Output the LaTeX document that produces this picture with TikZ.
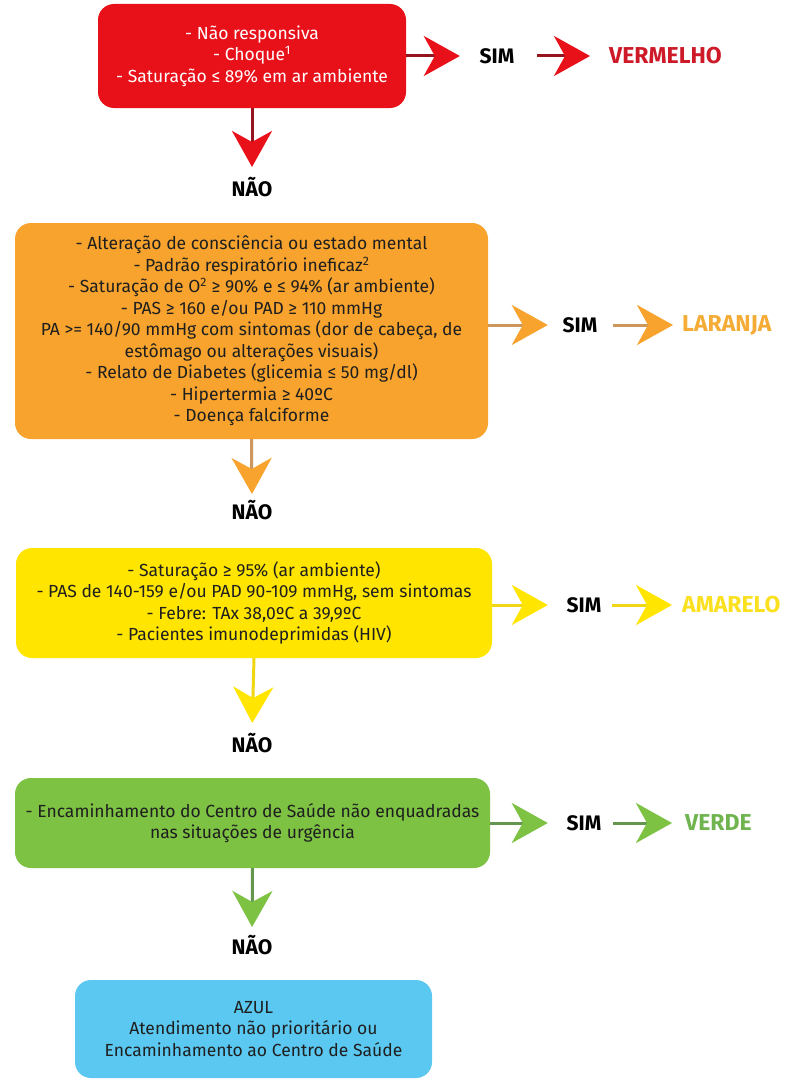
\documentclass[tikz,border=0pt]{standalone}
\usepackage{fontspec}
\setmainfont{Fira Sans}
\usetikzlibrary{arrows.meta}
\definecolor{cred}{RGB}{232,17,26}
\definecolor{cora}{RGB}{247,163,45}
\definecolor{cyel}{RGB}{255,229,0}
\definecolor{cgre}{RGB}{125,194,66}
\definecolor{cblu}{RGB}{90,200,240}
\definecolor{lred}{RGB}{205,25,40}
\definecolor{lora}{RGB}{245,172,55}
\definecolor{lyel}{RGB}{250,224,30}
\definecolor{lgre}{RGB}{112,180,80}
\definecolor{sred}{RGB}{150,20,30}
\definecolor{sora}{RGB}{205,150,90}
\definecolor{syel}{RGB}{240,215,20}
\definecolor{sgre}{RGB}{100,150,80}
\tikzset{
  box/.style={rounded corners=16pt, align=center, inner sep=0pt,
    font=\fontsize{17.5}{21.5}\selectfont, text=black!88},
  word/.style={inner sep=0pt, font=\fontsize{21}{23}\selectfont\bfseries},
  cword/.style={inner sep=0pt, anchor=west, font=\fontsize{23}{25}\selectfont\bfseries},
  simw/.style={word, minimum width=40pt},
  arr/.style 2 args={draw=#2, line width=3pt,
    -{Stealth[length=36pt,width=40pt,inset=11pt,color=#1]}},
}
\begin{document}
\begin{tikzpicture}[x=1pt,y=-1pt]
\useasboundingbox[fill=white] (0,0) rectangle (792,1081);
% boxes
\node[box, fill=cred, text=white, minimum width=308pt, minimum height=104pt] (red) at (252,56)
  {- Não responsiva\\- Choque\textsuperscript{1}\\- Saturação ≤ 89\% em ar ambiente};
\node[box, fill=cora, minimum width=473pt, minimum height=216pt] (ora) at (251.5,331)
  {- Alteração de consciência ou estado mental\\
   - Padrão respiratório ineficaz\textsuperscript{2}\\
   - Saturação de O\textsuperscript{2} ≥ 90\% e ≤ 94\% (ar ambiente)\\
   - PAS ≥ 160 e/ou PAD ≥ 110 mmHg\\
   PA >= 140/90 mmHg com sintomas (dor de cabeça, de\\
   estômago ou alterações visuais)\\
   - Relato de Diabetes (glicemia ≤ 50 mg/dl)\\
   - Hipertermia ≥ 40ºC\\
   - Doença falciforme};
\node[box, fill=cyel, minimum width=476pt, minimum height=110pt] (yel) at (254,603)
  {- Saturação ≥ 95\% (ar ambiente)\\
   - PAS de 140-159 e/ou PAD 90-109 mmHg, sem sintomas\\
   - Febre: TAx 38,0ºC a 39,9ºC\\
   - Pacientes imunodeprimidas (HIV)};
\node[box, fill=cgre, minimum width=475pt, minimum height=90pt] (gre) at (252.5,823)
  {- Encaminhamento do Centro de Saúde não enquadradas\\nas situações de urgência};
\node[box, fill=cblu, minimum width=357pt, minimum height=98pt] (blu) at (253.5,1029)
  {AZUL\\Atendimento não prioritário ou\\Encaminhamento ao Centro de Saúde};
% SIM labels
\node[simw] (s1) at (497,56) {SIM};
\node[simw] (s2) at (580,325) {SIM};
\node[simw] (s3) at (584,605) {SIM};
\node[simw] (s4) at (584,823) {SIM};
% colour labels
\node[cword, text=lred] (c1) at (609,56) {VERMELHO};
\node[cword, text=lora] (c2) at (682,325) {LARANJA};
\node[cword, text=lyel] (c3) at (682,605) {AMARELO};
\node[cword, text=lgre] (c4) at (685,823) {VERDE};
% NAO labels
\node[word] (n1) at (252,187) {NÃO};
\node[word] (n2) at (252,510) {NÃO};
\node[word] (n3) at (252,743) {NÃO};
\node[word] (n4) at (252,945) {NÃO};
% horizontal arrows
\draw[arr={cred}{sred}, shorten >=17pt] (red.east |- s1) -- (s1.west);
\draw[arr={cred}{sred}, shorten <=20pt, shorten >=19pt] (s1.east) -- (c1.west);
\draw[arr={cora}{sora}, shorten >=12pt] (ora.east |- s2) -- (s2.west);
\draw[arr={cora}{sora}, shorten <=13pt, shorten >=9pt] (s2.east) -- (c2.west);
\draw[arr={cyel}{syel}, shorten >=16pt] (yel.east |- s3) -- (s3.west);
\draw[arr={cyel}{syel}, shorten <=8pt, shorten >=10pt] (s3.east) -- (c3.west);
\draw[arr={cgre}{sgre}, shorten >=16pt] (gre.east |- s4) -- (s4.west);
\draw[arr={cgre}{sgre}, shorten <=9pt, shorten >=13pt] (s4.east) -- (c4.west);
% vertical arrows
\draw[arr={cred}{sred}, shorten >=10pt] (red.south) -- (n1.north);
\draw[arr={cora}{sora}, shorten >=6pt] (ora.south) -- (n2.north);
\draw[arr={cyel}{syel}, shorten >=10pt] (yel.south) -- (n3.north);
\draw[arr={cgre}{sgre}, shorten >=8pt] (gre.south) -- (n4.north);
\end{tikzpicture}
\end{document}
